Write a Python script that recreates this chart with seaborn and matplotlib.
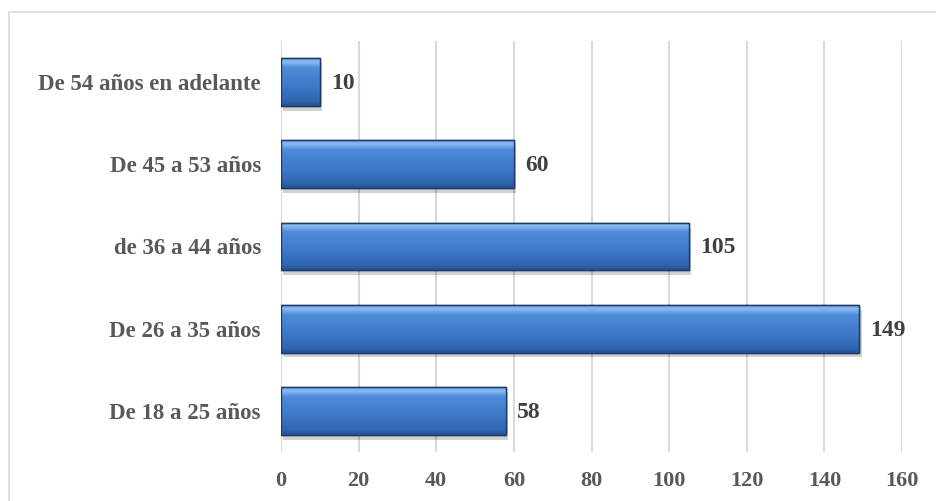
import matplotlib
matplotlib.use("Agg")
import matplotlib.pyplot as plt
import seaborn as sns
import pandas as pd
import numpy as np
from matplotlib.patches import Rectangle
from matplotlib.colors import LinearSegmentedColormap

categories = ["De 54 años en adelante", "De 45 a 53 años", "de 36 a 44 años",
              "De 26 a 35 años", "De 18 a 25 años"]
values = [10, 60, 105, 149, 58]
xticks = [0, 20, 40, 60, 80, 100, 120, 140, 160]

df = pd.DataFrame({"cat": categories, "val": values})

sns.set_theme(style="white")
plt.rcParams["font.family"] = ["Liberation Serif", "DejaVu Serif"]

fig = plt.figure(figsize=(9.36, 5.01), dpi=100)
ax = fig.add_axes([0.3002, 0.0978, 0.6635, 0.8204])

sns.barplot(data=df, y="cat", x="val", orient="h", color="#3C74C2",
            saturation=1, width=0.58, edgecolor="#1F3A66", linewidth=1.0, ax=ax)

# gradient fill + soft shadow for each bar
grad = LinearSegmentedColormap.from_list(
    "bevel",
    [(0.0, "#5E96DE"), (0.07, "#8DBDF2"), (0.2, "#4F8BD8"),
     (0.6, "#3E78C7"), (0.9, "#3065B0"), (1.0, "#25528F")])
img = np.linspace(0, 1, 100).reshape(-1, 1)
for p in list(ax.patches):
    x0, y0 = p.get_x(), p.get_y()
    w, h = p.get_width(), p.get_height()
    shadow = Rectangle((x0 + 0.6, y0 + 0.06), w, h, facecolor="#000000",
                       alpha=0.18, edgecolor="none", zorder=p.get_zorder() - 0.1)
    ax.add_patch(shadow)
    im = ax.imshow(img, cmap=grad, aspect="auto",
                   extent=[x0, x0 + w, y0 + h, y0], zorder=p.get_zorder() + 0.05,
                   interpolation="bicubic")
    im.set_clip_path(p)
    edge = Rectangle((x0, y0), w, h, facecolor="none", edgecolor="#1F3A66",
                     linewidth=1.0, zorder=p.get_zorder() + 0.1)
    ax.add_patch(edge)

ax.set_xlim(0, 160)
ax.set_ylim(4.5, -0.5)
ax.set_aspect("auto")
ax.set_xticks(xticks)
ax.set_xticklabels([str(t) for t in xticks])
ax.grid(axis="x", color="#D9D9D9", linewidth=1.5)
ax.grid(axis="y", visible=False)
ax.set_axisbelow(True)
for s in ax.spines.values():
    s.set_visible(False)
ax.set_xlabel("")
ax.set_ylabel("")
ax.tick_params(axis="both", length=0, labelcolor="#595959")
ax.tick_params(axis="y", pad=14.5, labelsize=16.5)
ax.tick_params(axis="x", pad=14, labelsize=16)
for lab in ax.get_xticklabels() + ax.get_yticklabels():
    lab.set_fontweight("bold")

for i, v in enumerate(values):
    ax.annotate(str(v), (v, i), xytext=(8, -1), textcoords="offset points",
                va="center", ha="left", fontsize=17, fontweight="bold", color="#404040")

fig.patches.append(Rectangle((9 / 936, -0.1), 1.2, 1 - 12 / 501 + 0.1,
                             transform=fig.transFigure, fill=False,
                             edgecolor="#D9D9D9", linewidth=1.2))

fig.savefig("out.png", dpi=100)
